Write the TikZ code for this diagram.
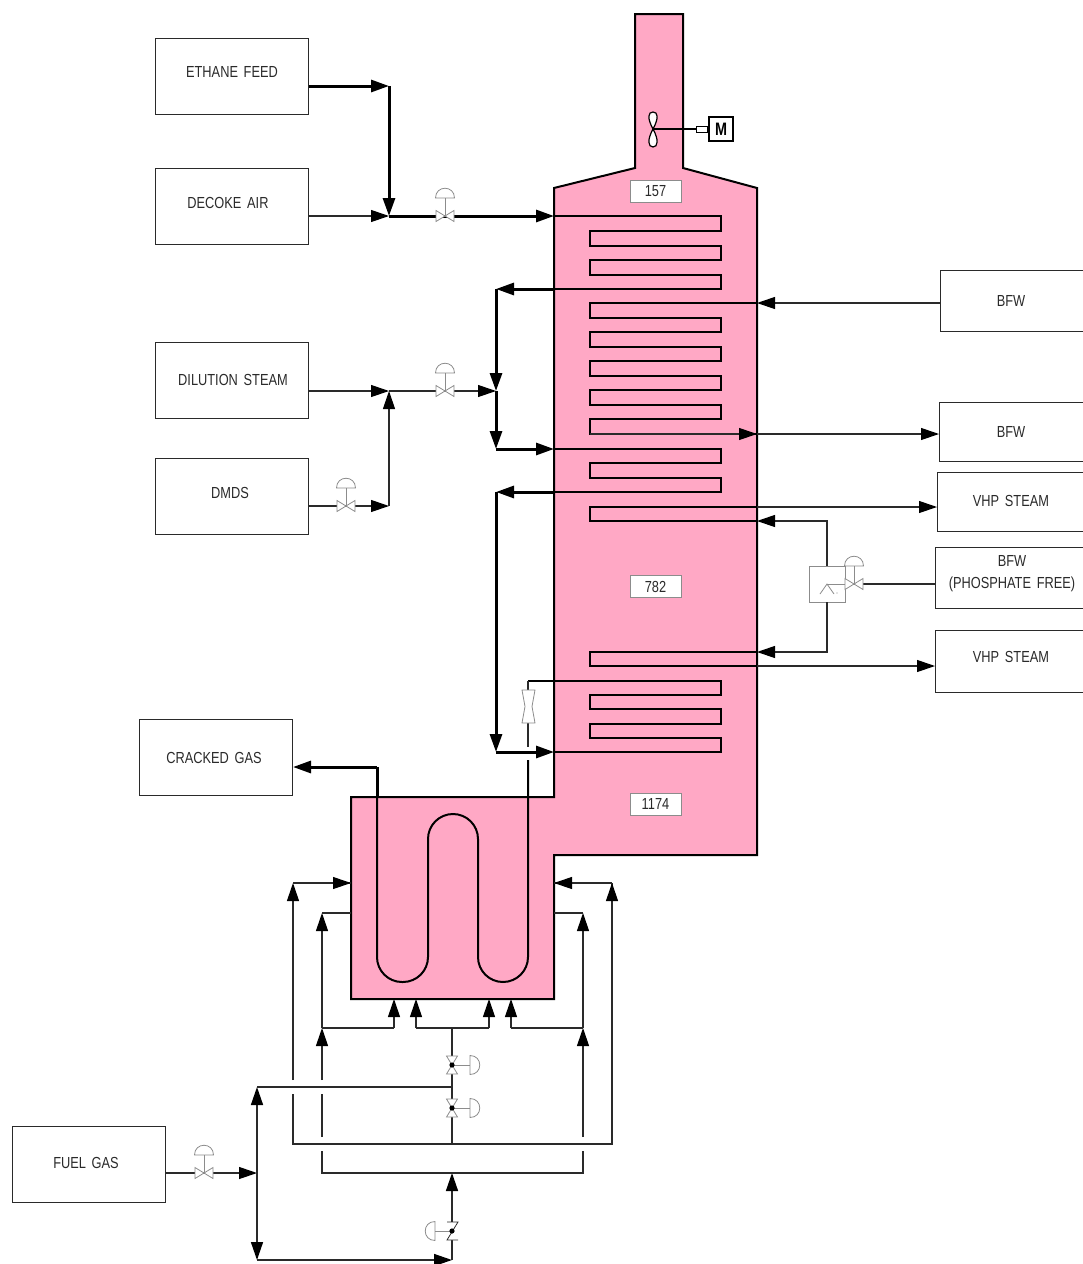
\documentclass[tikz,border=0pt]{standalone}
\usepackage{fontspec}
\setmainfont[FakeStretch=0.80,WordSpace=1.6]{Liberation Sans}
\usepackage{xcolor}
\usetikzlibrary{arrows.meta}

\definecolor{furnacepink}{HTML}{FFA8C5}
\definecolor{inkgray}{HTML}{2A2A2A}
\definecolor{valvegray}{HTML}{8C8C8C}

\tikzset{
  pipe/.style={line width=1.15pt, draw=inkgray},
  heavypipe/.style={line width=3pt, draw=black},
  flow/.style={pipe, -{Triangle[length=18pt,width=12pt,color=black]}},
  heavyflow/.style={heavypipe, -{Triangle[length=18pt,width=12pt,color=black]}},
  coil/.style={line width=2pt, draw=black, line join=miter},
  feedbox/.style={draw=inkgray, line width=1pt, minimum width=153pt, minimum height=76pt},
  feedtext/.style={text=inkgray, font=\fontsize{16}{22}\selectfont, align=center},
  tempbox/.style={draw=valvegray, line width=0.9pt, fill=white, minimum width=51pt, minimum height=22pt, inner sep=0pt,
    text=inkgray, font=\fontsize{16}{16}\selectfont},
  instrument/.style={draw=valvegray, line width=0.8pt},
  ctrlvalve/.pic={
    \draw[instrument, fill=white] (-9,-5.5) -- (9,5.5) -- (9,-5.5) -- (-9,5.5) -- cycle;
    \draw[instrument] (0,0) -- (0,-18);
    \draw[instrument, fill=white] (-9.5,-18) .. controls (-9.5,-31) and (9.5,-31) .. (9.5,-18) -- cycle;
  }
}

\begin{document}
\begin{tikzpicture}[x=1pt, y=-1pt]
  \useasboundingbox (0,0) rectangle (1083,1264);
  \clip (0,0) rectangle (1083,1264);

  % ----- Furnace body -----
  \draw[fill=furnacepink, line width=2pt, draw=black, line join=miter] (635,14) -- (683,14) -- (683,168) -- (757,188)
    -- (757,855) -- (554,855) -- (554,999) -- (351,999) -- (351,797) -- (554,797) -- (554,188) -- (635,168) -- cycle;

  % Fan and motor
  \draw[line width=1.2pt, fill=white] (653,129) .. controls (647,118) and (648,112) .. (653,112) .. controls (658,112) and (659,118) .. (653,129)
    .. controls (647,140) and (648,147) .. (653,147) .. controls (658,147) and (659,140) .. (653,129) -- cycle;
  \node[draw=black, line width=1.3pt, fill=white, minimum size=24pt, inner sep=0pt, font=\fontsize{18}{18}\selectfont\bfseries] (motor) at (721,129) {M};
  \node[draw=black, line width=1pt, fill=white, minimum width=11pt, minimum height=6pt, inner sep=0pt, anchor=east] (coupling) at (motor.west) {};
  \coordinate (fan) at (653,129);
  \draw[line width=1.2pt] (fan) -- (coupling.west);

  % Temperature tags
  \foreach \tagname/\ty/\tval in {tagtop/191/157, tagmid/586.5/782, tagbot/804/1174} {
    \node[tempbox] (\tagname) at (655.5,\ty) {\tval};
  }

  % ----- Feed and product boxes -----
  \foreach \boxname/\cx/\cy/\tx/\ty/\lbl in {
    ethane/231.5/76/232/72/ETHANE FEED,
    decoke/231.5/206.5/228/203/DECOKE AIR,
    dilution/231.5/380/233/380/DILUTION STEAM,
    dmds/231.5/496/230/493/DMDS,
    cracked/216/757/214/758/CRACKED GAS,
    fuel/89/1164/86/1163/FUEL GAS} {
    \node[feedbox] (\boxname) at (\cx,\cy) {};
    \node[feedtext] (\boxname text) at (\tx,\ty) {\lbl};
  }
  \foreach \boxname/\bx/\bh/\cy/\ty/\lbl in {
    bfwin/940/61/300.5/301/BFW,
    bfwout/939/59/431.5/432/BFW,
    vhpa/937/59/501.5/501/VHP STEAM,
    vhpb/935/62/661/657/VHP STEAM} {
    \node[feedbox, minimum width=200pt, minimum height=\bh pt, anchor=west] (\boxname) at (\bx,\cy) {};
    \node[feedtext] (\boxname text) at (1011,\ty) {\lbl};
  }
  \node[feedbox, minimum width=200pt, minimum height=61pt, anchor=west] (phos) at (935,577.5) {};
  \node[feedtext] (phostext) at (1012,574) {BFW\\(PHOSPHATE FREE)};

  % ----- Convection coils -----
  % Top feed coil
  \coordinate (feedin) at (554,216);
  \coordinate (feedout) at (554,289);
  \draw[coil] (feedin) -- (721,216) -- (721,231) -- (590,231) -- (590,246) -- (721,246) -- (721,260) -- (590,260) -- (590,275) -- (721,275) -- (721,289) -- (feedout);

  % BFW coil
  \coordinate (bfwinlet) at (757,303);
  \coordinate (bfwoutlet) at (757,434);
  \draw[coil] (bfwinlet) -- (590,303) -- (590,318) -- (721,318) -- (721,332) -- (590,332) -- (590,347) -- (721,347) -- (721,361)
    -- (590,361) -- (590,376) -- (721,376) -- (721,390) -- (590,390) -- (590,405) -- (721,405) -- (721,419) -- (590,419) -- (590,434) -- (bfwoutlet);

  % Mid feed coil
  \coordinate (midin) at (554,449);
  \coordinate (midout) at (554,492);
  \draw[coil] (midin) -- (721,449) -- (721,463) -- (590,463) -- (590,478) -- (721,478) -- (721,492) -- (midout);

  % VHP steam coils
  \coordinate (vhpup) at (757,521);
  \coordinate (vhplow) at (757,652);
  \coordinate (vhpupout) at (757,507);
  \coordinate (vhplowout) at (757,666);
  \draw[coil] (vhpupout) -- (590,507) -- (590,521) -- (vhpup);
  \draw[coil] (vhplow) -- (590,652) -- (590,666) -- (vhplowout);

  % Bottom coil and crossover
  \coordinate (lowin) at (554,752);
  \coordinate (crossover) at (528,681);
  \draw[coil] (lowin) -- (721,752) -- (721,738) -- (590,738) -- (590,724) -- (721,724) -- (721,709) -- (590,709) -- (590,695) -- (721,695) -- (721,681) -- (crossover);

  % Radiant U tube
  \coordinate (crackedout) at (377,767);
  \coordinate (tubeup) at (528,760);
  \draw[coil, rounded corners=25pt] (crackedout) -- (377,982) -- (428,982) -- (428,814) -- (478,814) -- (478,982) -- (528,982) -- (tubeup);
  \draw[heavypipe] (crackedout) -- (377,797);

  % Venturi on crossover
  \coordinate (ventop) at (528,690);
  \coordinate (venbot) at (528,723);
  \draw[pipe] (crossover) -- (ventop);
  \draw[pipe] (venbot) -- (528,747);
  \draw[instrument, fill=white] (522,690) -- (535,690) -- (532,706.5) -- (535,723) -- (522,723) -- (525,706.5) -- cycle;

  % ----- Left side feed lines -----
  \coordinate (feedjoin) at (389,216);
  \coordinate (ethanebend) at (389,86);
  \coordinate (feedvalve) at (445,216);
  \draw[heavyflow] (ethane.east |- ethanebend) -- (ethanebend);
  \draw[heavyflow] (ethanebend) -- (feedjoin);
  \draw[flow] (decoke.east |- feedjoin) -- (feedjoin);
  \draw[heavyflow] (feedjoin) -- (feedin);
  \pic at (feedvalve) {ctrlvalve};

  \coordinate (steamjoin) at (389,391);
  \coordinate (dmdsbend) at (389,506);
  \coordinate (steamvalve) at (445,391);
  \coordinate (dmdsvalve) at (346,506);
  \coordinate (splitin) at (496,391);
  \coordinate (splittop) at (496,289);
  \coordinate (splitbot) at (496,449);
  \draw[flow] (dilution.east |- steamjoin) -- (steamjoin);
  \draw[flow] (steamjoin) -- (splitin);
  \draw[flow] (dmds.east |- dmdsbend) -- (dmdsbend);
  \draw[flow] (dmdsbend) -- (steamjoin);
  \pic at (steamvalve) {ctrlvalve};
  \pic at (dmdsvalve) {ctrlvalve};

  \draw[heavyflow] (feedout) -- (splittop);
  \draw[heavyflow] (splittop) -- (splitin);
  \draw[heavyflow] (splitin) -- (splitbot);
  \draw[heavyflow] (splitbot) -- (midin);

  \coordinate (lowtop) at (496,492);
  \coordinate (lowbot) at (496,752);
  \draw[heavyflow] (midout) -- (lowtop);
  \draw[heavyflow] (lowtop) -- (lowbot);
  \draw[heavyflow] (lowbot) -- (lowin);

  \draw[heavyflow] (crackedout) -- (cracked.east |- crackedout);

  % ----- Right side lines -----
  \draw[flow] (bfwin.west |- bfwinlet) -- (bfwinlet);
  \draw[flow] (590,434) -- (bfwoutlet);
  \draw[flow] (bfwoutlet) -- (bfwout.west |- bfwoutlet);
  \draw[flow] (vhpupout) -- (vhpa.west |- vhpupout);
  \draw[flow] (vhplowout) -- (vhpb.west |- vhplowout);

  % Steam drum
  \node[draw=valvegray, line width=0.8pt, fill=white, minimum size=36pt, inner sep=0pt] (drum) at (827,584) {};
  \coordinate (drumvalve) at (854,584);
  \draw[flow] (drum.north) -- (827,521) -- (vhpup);
  \draw[flow] (drum.south) -- (827,652) -- (vhplow);
  \draw[pipe] (phos.west |- drumvalve) -- (drumvalve);
  \draw[instrument] (drum.center) -- (drumvalve);
  \draw[instrument] (820,594) -- (827,584) -- (834,594);
  \fill[valvegray] (837,593) circle (0.7pt);
  \pic at (drumvalve) {ctrlvalve};

  % ----- Fuel gas network -----
  \coordinate (fuelvalve) at (204,1173);
  \coordinate (fuelsplit) at (257,1173);
  \coordinate (fueltop) at (257,1087);
  \coordinate (fuelbot) at (257,1260);
  \coordinate (pilottee) at (452,1260);
  \coordinate (pilotjoin) at (452,1173);
  \coordinate (maintee) at (452,1144);
  \coordinate (burnertee) at (452,1028);
  \coordinate (fueljoin) at (452,1087);
  \draw[flow] (fuel.east |- fuelsplit) -- (fuelsplit);
  \pic at (fuelvalve) {ctrlvalve};
  \draw[flow, line width=1.5pt] (fuelsplit) -- (fueltop);
  \draw[flow, line width=1.5pt] (fuelsplit) -- (fuelbot);
  \draw[pipe, line width=1.5pt] (fueltop) -- (fueljoin);
  \draw[flow, line width=1.5pt] (fuelbot) -- (pilottee);
  \draw[flow, line width=1.5pt] (pilottee) -- (pilotjoin);
  \draw[pipe, line width=1.5pt] (maintee) -- (burnertee);

  % Main and pilot headers
  \draw[pipe] (293,1094) -- (293,1144) -- (612,1144) -- (612,883);
  \draw[pipe] (322,1151) -- (322,1173) -- (583,1173) -- (583,1151);
  \draw[flow] (293,1080) -- (293,883);
  \draw[pipe] (293,883) -- (351,883);
  \draw[flow] (320,883) -- (351,883);
  \draw[flow] (612,1000) -- (612,883);
  \draw[pipe] (612,883) -- (554,883);
  \draw[flow] (585,883) -- (554,883);
  \draw[pipe] (322,1137) -- (322,1094);
  \draw[flow] (322,1080) -- (322,1028);
  \draw[flow] (322,1028) -- (322,913);
  \draw[pipe] (322,913) -- (351,913);
  \draw[flow] (583,1137) -- (583,1028);
  \draw[flow] (583,1028) -- (583,913);
  \draw[pipe] (583,913) -- (554,913);

  % Burner branches
  \draw[pipe] (322,1028) -- (394,1028);
  \draw[flow] (394,1028) -- (394,999);
  \draw[flow] (416,1028) -- (416,999);
  \draw[pipe] (416,1028) -- (489,1028);
  \draw[flow] (489,1028) -- (489,999);
  \draw[flow] (511,1028) -- (511,999);
  \draw[pipe] (511,1028) -- (583,1028);

  % Vertical control valves
  \foreach \valvename/\vy in {valvea/1065, valveb/1108} {
    \coordinate (\valvename) at (452,\vy);
    \pic[rotate=-90] at (\valvename) {ctrlvalve};
    \fill (\valvename) circle (2.6pt);
  }
  \coordinate (valvec) at (452,1231);
  \draw[pipe, line width=1.5pt] (pilottee) -- (valvec);
  \draw[instrument] (valvec) -- (435,1231);
  \draw[instrument, fill=white] (435,1221.5) .. controls (422,1221.5) and (422,1240.5) .. (435,1240.5) -- cycle;
  \draw[instrument, fill=white, draw=inkgray] (447,1222) -- (458,1222) -- (447,1240) -- (458,1240);
  \fill (valvec) circle (2.6pt);
\end{tikzpicture}
\end{document}
